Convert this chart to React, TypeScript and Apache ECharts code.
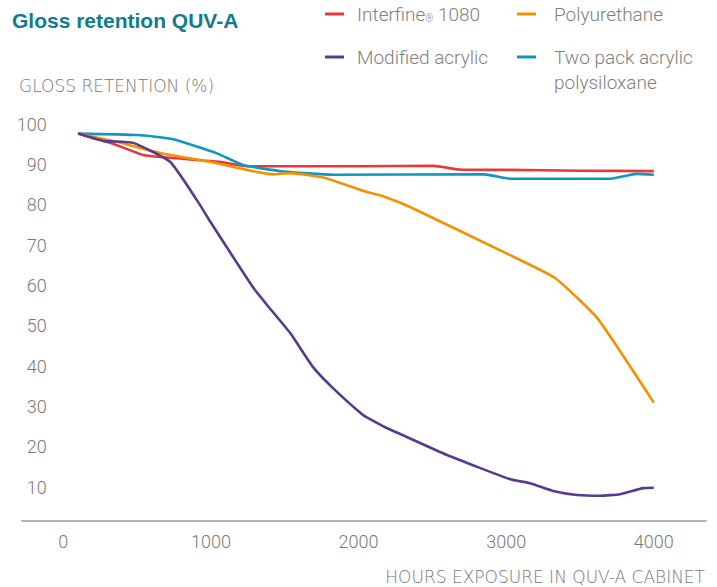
import React, { useEffect, useRef } from "react";
import * as echarts from "echarts";

// ---- data ----
const hourTicks = [0, 1000, 2000, 3000, 4000];
const retentionTicks = [10, 20, 30, 40, 50, 60, 70, 80, 90, 100];

const seriesNames = ["Interfine® 1080", "Polyurethane", "Modified acrylic", "Two pack acrylic polysiloxane"];

const interfineHours = [100, 350, 540, 720, 1060, 1240, 1500, 2000, 2510, 2680, 3000, 3500, 4000];
const interfineValues = [97.7, 95.0, 92.4, 91.7, 90.7, 89.6, 89.6, 89.6, 89.7, 88.8, 88.7, 88.5, 88.4];

const polyurethaneHours = [100, 405, 500, 655, 993, 1421, 1536, 1773, 2058, 2146, 2349, 3013, 3331, 3616, 4000];
const polyurethaneValues = [97.7, 95.3, 94.3, 92.9, 90.7, 87.6, 87.9, 86.7, 83.2, 82.4, 79.5, 67.8, 61.9, 52.0, 31.0];

const acrylicHours = [100, 270, 473, 723, 905, 995, 1285, 1380, 1536, 1692, 1827, 2030, 2064, 2180, 2302, 2600, 3027, 3163, 3318, 3481, 3637, 3772, 3928, 4000];
const acrylicValues = [97.7, 95.9, 95.4, 90.7, 81.2, 75.9, 59.6, 55.2, 48.3, 39.8, 34.6, 27.9, 27.2, 24.9, 22.9, 18.0, 12.0, 11.0, 9.1, 8.1, 7.9, 8.3, 9.8, 9.9];

const polysiloxaneHours = [100, 500, 745, 1041, 1218, 1489, 1829, 2851, 3028, 3709, 3885, 4000];
const polysiloxaneValues = [97.7, 97.35, 96.3, 92.8, 89.9, 88.3, 87.5, 87.6, 86.5, 86.5, 87.7, 87.5];

const colors = ["#e8383d", "#f39200", "#583a8e", "#0e97c0"];

const zip = (xs: number[], ys: number[]) => xs.map((x, i) => [x, ys[i]]);

const lightFont = "Roboto, 'Liberation Sans', Arial, sans-serif";
const capsFont = "'DejaVu Sans', 'Liberation Sans', sans-serif";

export default function App() {
  const ref = useRef<HTMLDivElement>(null);

  useEffect(() => {
    if (!ref.current) return;
    const chart = echarts.init(ref.current, undefined, { renderer: "svg" });

    const legendText = {
      fontSize: 19,
      fontFamily: lightFont,
      fontWeight: 300,
      fill: "#808080",
      verticalAlign: "middle",
      align: "left",
    };

    const option: any = {
      animation: false,
      backgroundColor: "#ffffff",
      grid: { left: 21.7, right: 11, top: 120, bottom: 66.3, containLabel: false },
      xAxis: {
        type: "value",
        min: -282,
        max: 4354,
        axisLine: { show: true, lineStyle: { color: "#9a9a9a", width: 1.5 } },
        axisTick: { show: false },
        splitLine: { show: false },
        axisLabel: {
          customValues: hourTicks,
          formatter: (v: number) => String(v),
          color: "#7a7a7a",
          fontSize: 18,
          fontFamily: lightFont,
          fontWeight: 300,
          margin: 12,
        },
      },
      yAxis: {
        type: "value",
        min: 1.72,
        max: 101.07,
        axisLine: { show: false },
        axisTick: { show: false },
        splitLine: { show: false },
        axisLabel: {
          customValues: retentionTicks,
          formatter: (v: number) => String(v),
          color: "#7a7a7a",
          fontSize: 18,
          fontFamily: lightFont,
          fontWeight: 300,
          margin: -25,
          align: "right",
        },
      },
      series: [
        { name: seriesNames[0], data: zip(interfineHours, interfineValues), color: colors[0] },
        { name: seriesNames[3], data: zip(polysiloxaneHours, polysiloxaneValues), color: colors[3] },
        { name: seriesNames[1], data: zip(polyurethaneHours, polyurethaneValues), color: colors[1] },
        { name: seriesNames[2], data: zip(acrylicHours, acrylicValues), color: colors[2] },
      ].map((s) => ({
        ...s,
        type: "line",
        showSymbol: false,
        smooth: 0.15,
        lineStyle: { width: 2.6, color: s.color },
      })),
      graphic: [
        {
          type: "text",
          x: 12,
          y: 20,
          style: {
            text: "Gloss retention QUV-A",
            fontSize: 21,
            fontWeight: "bold",
            fontFamily: "'Liberation Sans', Arial, sans-serif",
            fill: "#127b8c",
            verticalAlign: "middle",
          },
        },
        {
          type: "text",
          x: 19,
          y: 86,
          style: {
            text: "GLOSS RETENTION (%)",
            fontSize: 17,
            fontFamily: capsFont,
            fontWeight: 200,
            fill: "#777777",
            verticalAlign: "middle",
          },
        },
        {
          type: "text",
          x: 705,
          y: 577,
          style: {
            text: "HOURS EXPOSURE IN QUV-A CABINET",
            fontSize: 17,
            fontFamily: capsFont,
            fontWeight: 200,
            fill: "#777777",
            align: "right",
            verticalAlign: "middle",
          },
        },
        // legend
        { type: "line", shape: { x1: 325, y1: 14, x2: 344, y2: 14 }, style: { stroke: colors[0], lineWidth: 3 } },
        {
          type: "text",
          x: 357,
          y: 14,
          style: {
            ...legendText,
            text: "{a|Interfine}{r|®}{a| 1080}",
            rich: {
              a: { fontSize: 19, fontFamily: lightFont, fontWeight: 300, fill: "#808080" },
              r: { fontSize: 10, fontFamily: lightFont, fontWeight: 300, fill: "#808080", verticalAlign: "bottom", padding: [6, 0, 0, 0] },
            },
          },
        },
        { type: "line", shape: { x1: 517, y1: 14, x2: 536, y2: 14 }, style: { stroke: colors[1], lineWidth: 3 } },
        { type: "text", x: 554, y: 14, style: { ...legendText, text: seriesNames[1] } },
        { type: "line", shape: { x1: 325, y1: 57, x2: 344, y2: 57 }, style: { stroke: colors[2], lineWidth: 3 } },
        { type: "text", x: 357, y: 57, style: { ...legendText, text: seriesNames[2] } },
        { type: "line", shape: { x1: 517, y1: 57, x2: 536, y2: 57 }, style: { stroke: colors[3], lineWidth: 3 } },
        {
          type: "text",
          x: 554,
          y: 44.5,
          style: { ...legendText, verticalAlign: "top", lineHeight: 25, text: "Two pack acrylic\npolysiloxane" },
        },
      ],
    };

    chart.setOption(option);
    return () => chart.dispose();
  }, []);

  return <div ref={ref} style={{ position: "absolute", left: 0, top: 0, width: 717, height: 587 }} />;
}
